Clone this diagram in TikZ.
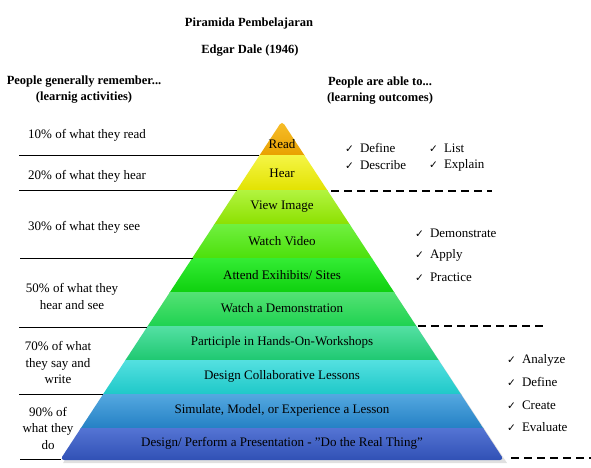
\documentclass[tikz,border=0pt]{standalone}
\usepackage{fontspec}
\setmainfont{Liberation Serif}
\newfontfamily\symfont{DejaVu Sans}
\newcommand\chk{{\symfont\fontsize{10.5}{11}\selectfont ✓}}
\begin{document}
\begin{tikzpicture}[x=1pt,y=-1pt,
  txt/.style={font=\fontsize{13}{16.5}\selectfont, inner sep=0pt, align=center},
  ltxt/.style={font=\fontsize{13}{16.5}\selectfont, inner sep=0pt, anchor=west},
  head/.style={font=\bfseries\fontsize{12.5}{16}\selectfont, inner sep=0pt, align=center},
  band/.style={font=\fontsize{13}{14}\selectfont, inner sep=0pt, text=black},
  divider/.style={line width=0.9pt, black},
  dline/.style={line width=1.3pt, black, dash pattern=on 8pt off 5pt},
  chkitem/.style={font=\fontsize{13}{14}\selectfont, inner sep=0pt, anchor=west}]
\useasboundingbox (0,0) rectangle (591,467);
\fill[white] (0,0) rectangle (591,467);

% headers
\node[head] (t1) at (249,23) {Piramida Pembelajaran};
\node[head] (t2) at (250,51) {Edgar Dale (1946)};
\node[head] (h1) at (84,90) {People generally remember...\\(learnig activities)};
\node[head] (h2) at (380,91) {People are able to...\\(learning outcomes)};

% pyramid shadow
\fill[black!12] (284,126) -- (507,463) -- (63,463) -- cycle;
% pyramid
\begin{scope}
  \clip[rounded corners=4pt] (282,121) -- (504,460) -- (60,460) -- cycle;
  \shade[top color={rgb,255:red,250;green,196;blue,50}, bottom color={rgb,255:red,232;green,160;blue,0}] (50,115) rectangle (520,155.5);
  \shade[top color={rgb,255:red,245;green,245;blue,70}, bottom color={rgb,255:red,226;green,226;blue,0}] (50,155) rectangle (520,190.5);
  \shade[top color={rgb,255:red,178;green,244;blue,64}, bottom color={rgb,255:red,140;green,224;blue,0}] (50,190) rectangle (520,224.5);
  \shade[top color={rgb,255:red,112;green,240;blue,64}, bottom color={rgb,255:red,76;green,224;blue,10}] (50,224) rectangle (520,258.5);
  \shade[top color={rgb,255:red,52;green,236;blue,52}, bottom color={rgb,255:red,14;green,208;blue,14}] (50,258) rectangle (520,292.5);
  \shade[top color={rgb,255:red,84;green,226;blue,116}, bottom color={rgb,255:red,30;green,210;blue,80}] (50,292) rectangle (520,326.5);
  \shade[top color={rgb,255:red,84;green,224;blue,164}, bottom color={rgb,255:red,30;green,200;blue,112}] (50,326) rectangle (520,360.5);
  \shade[top color={rgb,255:red,84;green,224;blue,224}, bottom color={rgb,255:red,30;green,200;blue,200}] (50,360) rectangle (520,394.5);
  \shade[top color={rgb,255:red,84;green,168;blue,224}, bottom color={rgb,255:red,36;green,128;blue,196}] (50,394) rectangle (520,428.5);
  \shade[top color={rgb,255:red,84;green,116;blue,212}, bottom color={rgb,255:red,48;green,80;blue,180}] (50,428) rectangle (520,461);
\end{scope}

% band labels
\node[band] (b1) at (282,144) {Read};
\node[band] (b2) at (282,173) {Hear};
\node[band] (b3) at (282,207) {View Image};
\node[band] (b4) at (282,241) {Watch Video};
\node[band] (b5) at (282,275) {Attend Exihibits/ Sites};
\node[band] (b6) at (282,308) {Watch a Demonstration};
\node[band] (b7) at (282,342) {Participle in Hands-On-Workshops};
\node[band] (b8) at (282,376) {Design Collaborative Lessons};
\node[band] (b9) at (282,410) {Simulate, Model, or Experience a Lesson};
\node[band] (b10) at (282,443) {Design/ Perform a Presentation - {\char34}Do the Real Thing{\char34}};

% left texts
\node[ltxt] (l1) at (28,135) {10\% of what they read};
\node[ltxt] (l2) at (28,176) {20\% of what they hear};
\node[ltxt] (l3) at (28,227) {30\% of what they see};
\node[txt] (l4) at (72,296.5) {50\% of what they\\hear and see};
\node[txt] (l5) at (58,362.5) {70\% of what\\they say and\\write};
\node[txt] (l6) at (48,428) {90\% of\\what they\\do};

% left dividers
\coordinate (a1) at (19,155); \coordinate (a2) at (259,155);
\coordinate (c1) at (19,190); \coordinate (c2) at (237,190);
\coordinate (d1) at (20,258); \coordinate (d2) at (193,258);
\coordinate (e1) at (19,327); \coordinate (e2) at (147,327);
\coordinate (f1) at (19,394); \coordinate (f2) at (103,394);
\coordinate (g1) at (20,459.5); \coordinate (g2) at (61,459.5);
\draw[divider] (a1) -- (a2);
\draw[divider] (c1) -- (c2);
\draw[divider] (d1) -- (d2);
\draw[divider] (e1) -- (e2);
\draw[divider] (f1) -- (f2);
\draw[divider] (g1) -- (g2);

% right dashed lines
\coordinate (r1) at (331,191); \coordinate (r2) at (492,191);
\coordinate (s1) at (418,326); \coordinate (s2) at (545,326);
\coordinate (u1) at (511,458); \coordinate (u2) at (591,458);
\draw[dline] (r1) -- (r2);
\draw[dline] (s1) -- (s2);
\draw[dline] (u1) -- (u2);

% checklists
\node[chkitem] (k1) at (345,148) {\chk\hspace{6pt}Define};
\node[chkitem] (k2) at (345,165) {\chk\hspace{6pt}Describe};
\node[chkitem] (k3) at (429,148) {\chk\hspace{6pt}List};
\node[chkitem] (k4) at (429,165) {\chk\hspace{6pt}Explain};
\node[chkitem] (k5) at (415,233) {\chk\hspace{6pt}Demonstrate};
\node[chkitem] (k6) at (415,255) {\chk\hspace{6pt}Apply};
\node[chkitem] (k7) at (415,277) {\chk\hspace{6pt}Practice};
\node[chkitem] (k8) at (507,360) {\chk\hspace{6pt}Analyze};
\node[chkitem] (k9) at (507,382) {\chk\hspace{6pt}Define};
\node[chkitem] (k10) at (507,405) {\chk\hspace{6pt}Create};
\node[chkitem] (k11) at (507,427) {\chk\hspace{6pt}Evaluate};
\end{tikzpicture}
\end{document}
